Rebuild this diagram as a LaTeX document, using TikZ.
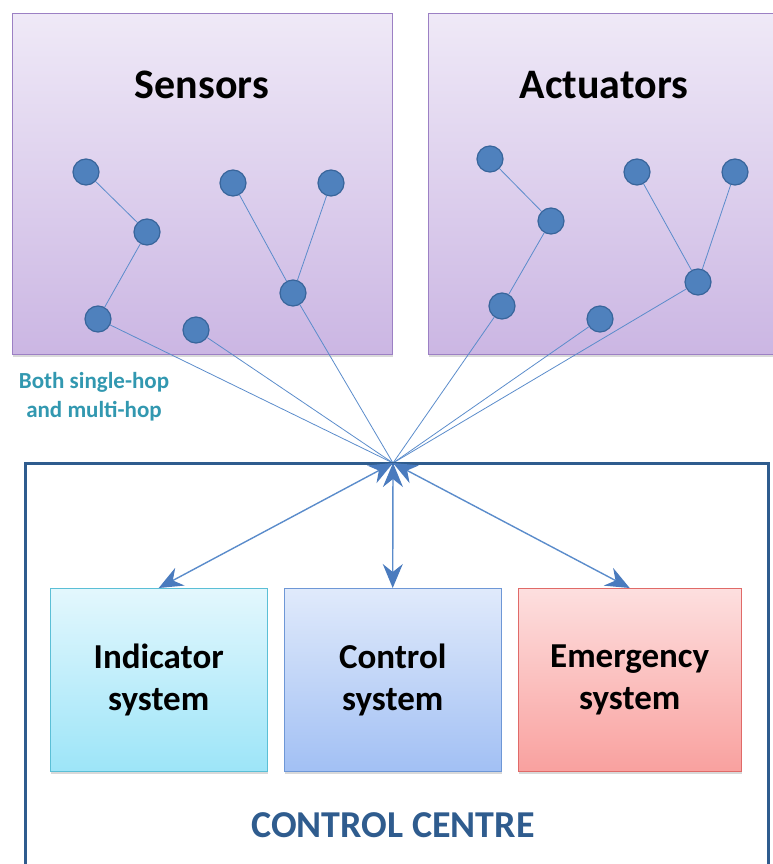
\documentclass[tikz,border=0pt]{standalone}
\usepackage{fontspec}
\setmainfont{Carlito}
\usetikzlibrary{arrows.meta,shadows}

\definecolor{paneltop}{HTML}{EFE9F7}
\definecolor{panelbot}{HTML}{CBB6E3}
\definecolor{panelline}{HTML}{9C80C4}
\definecolor{dotfill}{HTML}{4F81BD}
\definecolor{dotline}{HTML}{38659B}
\definecolor{linkcol}{HTML}{5B8CCB}
\definecolor{tipcol}{HTML}{4A7BBE}
\definecolor{hopcol}{HTML}{3298B0}
\definecolor{centrecol}{HTML}{2F5C8E}
\definecolor{indtop}{HTML}{E3F7FD}
\definecolor{indbot}{HTML}{9DE5F8}
\definecolor{indline}{HTML}{5BBFD6}
\definecolor{ctltop}{HTML}{E0EAFB}
\definecolor{ctlbot}{HTML}{A2C0F4}
\definecolor{ctlline}{HTML}{6E97D6}
\definecolor{emgtop}{HTML}{FDDFDF}
\definecolor{emgbot}{HTML}{F9A19F}
\definecolor{emgline}{HTML}{E06A68}

\begin{document}
\begin{tikzpicture}[x=1pt, y=-1pt,
  panel/.style={rectangle, draw=panelline, thick, top color=paneltop, bottom color=panelbot,
    anchor=north west, inner sep=0pt,
    drop shadow={opacity=0.3, shadow xshift=1pt, shadow yshift=-3pt}},
  dot/.style={circle, draw=dotline, very thick, fill=dotfill, minimum size=26pt, inner sep=0pt},
  link/.style={draw=linkcol, line width=0.8pt},
  arrow/.style={draw=linkcol, line width=1.4pt,
    {Stealth[length=24pt, width=20pt, inset=8pt, color=tipcol]}-{Stealth[length=24pt, width=20pt, inset=8pt, color=tipcol]}},
  sysbox/.style={rectangle, anchor=north west, inner sep=0pt, minimum width=217pt, minimum height=183pt,
    align=center, font=\fontsize{35}{42}\selectfont\bfseries,
    drop shadow={opacity=0.3, shadow xshift=1pt, shadow yshift=-3pt}},
  title/.style={font=\fontsize{42}{50}\selectfont\bfseries},
  ]

\useasboundingbox (0,0) rectangle (773,864);
\clip (0,0) rectangle (773,864);

% the two fields
\node[panel, minimum width=380pt, minimum height=341pt] (sensbox) at (12,13) {};
\node[panel, minimum width=370pt, minimum height=341pt] (actbox) at (428,13) {};
\node[title] (senstitle) at (202,85) {Sensors};
\node[title] (acttitle) at (604,85) {Actuators};

\coordinate (hub) at (393,463);

% sensor nodes
\node[dot] (s1) at (86,172) {};
\node[dot] (s2) at (147,232) {};
\node[dot] (s3) at (98,319) {};
\node[dot] (s4) at (196,330) {};
\node[dot] (s5) at (233,183) {};
\node[dot] (s6) at (331,183) {};
\node[dot] (s7) at (293,293) {};

% actuator nodes
\node[dot] (a1) at (490,159) {};
\node[dot] (a2) at (551,221) {};
\node[dot] (a3) at (502,306) {};
\node[dot] (a4) at (600,319) {};
\node[dot] (a5) at (637,172) {};
\node[dot] (a6) at (735,172) {};
\node[dot] (a7) at (698,282) {};

\draw[link] (s1) -- (s2);
\draw[link] (s2) -- (s3);
\draw[link] (s5) -- (s7);
\draw[link] (s6) -- (s7);
\draw[link] (a1) -- (a2);
\draw[link] (a2) -- (a3);
\draw[link] (a5) -- (a7);
\draw[link] (a6) -- (a7);

\draw[link] (s3) -- (hub);
\draw[link] (s4) -- (hub);
\draw[link] (s7) -- (hub);
\draw[link] (a3) -- (hub);
\draw[link] (a4) -- (hub);
\draw[link] (a7) -- (hub);

\node[text=hopcol, align=center, font=\fontsize{23}{29}\selectfont\bfseries] (hoptext) at (94,397) {Both single-hop\\and multi-hop};

% control centre
\draw[centrecol, line width=3pt] (25,900) -- (25,463) -- (768,463) -- (768,900);
\node[text=centrecol, font=\fontsize{38}{44}\selectfont\bfseries] (centretitle) at (393,825) {CONTROL CENTRE};

\node[sysbox, draw=indline, top color=indtop, bottom color=indbot] (ind) at (50,588) {Indicator\\system};
\node[sysbox, draw=ctlline, top color=ctltop, bottom color=ctlbot] (ctl) at (284,588) {Control\\system};
\node[sysbox, draw=emgline, top color=emgtop, bottom color=emgbot, minimum width=223pt] (emg) at (518,588) {Emergency\\system};

\draw[arrow] (ind.north) -- (hub);
\draw[arrow] (ctl.north) -- (hub);
\draw[arrow] (emg.north) -- (hub);

\end{tikzpicture}
\end{document}
